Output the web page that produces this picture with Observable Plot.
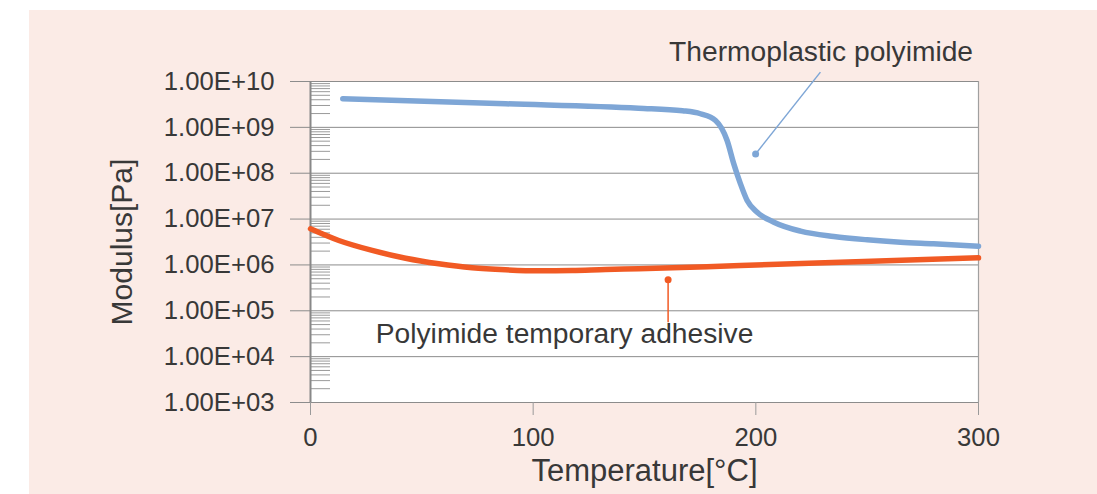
<!DOCTYPE html>
<html><head><meta charset="utf-8">
<script src="https://cdn.jsdelivr.net/npm/d3@7"></script>
<script src="https://cdn.jsdelivr.net/npm/@observablehq/plot@0.6"></script>
<style>
html,body{margin:0;padding:0;background:#fff;}
#wrap{position:relative;width:1097px;height:494px;overflow:hidden;}
#panel{position:absolute;left:29px;top:10px;width:1068px;height:484px;background:#fbebe6;}
#chart{position:absolute;left:0;top:0;}
</style></head><body>
<div id="wrap"><div id="panel"></div><div id="chart"></div></div>
<script>
// Thermoplastic polyimide (blue)
const tpTemp    = [14.5, 87.6, 147.3, 167.1, 175.1, 181.9, 187.1, 190.1, 193.1, 196.1, 200.6, 208.1, 220.1, 235.0, 250.0, 265.0, 279.8, 300];
const tpModulus = [4.20e9, 3.27e9, 2.62e9, 2.30e9, 1.98e9, 1.41e9, 5.16e8, 1.60e8, 5.87e7, 2.54e7, 1.41e7, 8.55e6, 5.45e6, 4.17e6, 3.53e6, 3.13e6, 2.89e6, 2.56e6];
// Polyimide temporary adhesive (orange)
const taTemp    = [0, 12.7, 27.7, 42.7, 57.6, 72.6, 87.6, 102.5, 117.5, 132.5, 147.4, 193.1, 238.0, 300];
const taModulus = [6.14e6, 3.41e6, 2.07e6, 1.40e6, 1.06e6, 8.67e5, 7.83e5, 7.45e5, 7.57e5, 7.96e5, 8.24e5, 9.73e5, 1.15e6, 1.43e6];

const xTicks = [0, 100, 200, 300];
const yTicks = [1e3, 1e4, 1e5, 1e6, 1e7, 1e8, 1e9, 1e10];

// Annotations
const annNames  = ["Thermoplastic polyimide", "Polyimide temporary adhesive"];
const annDotT   = [199.9, 160.6];
const annDotM   = [2.63e8, 4.74e5];
const annEndT   = [229, 160.6];
const annEndM   = [1.6e10, 5.6e4];
const annTextT  = [229.3, 114.1];
const annTextM  = [4.3e10, 3.2e4];
const annColors = ["#7ea6d6", "#f15a24"];

const tp = tpTemp.map((t, i) => ({t, m: tpModulus[i]}));
const ta = taTemp.map((t, i) => ({t, m: taModulus[i]}));
const ann = annNames.map((name, i) => ({name, dt: annDotT[i], dm: annDotM[i], et: annEndT[i], em: annEndM[i], tt: annTextT[i], tm: annTextM[i], c: annColors[i]}));

const minorTicks = d3.scaleLog().domain([1e3, 1e10]).ticks().filter(v => !yTicks.some(d => Math.abs(v - d) / d < 1e-9));

const fmt = d => "1.00E+" + String(Math.round(Math.log10(d))).padStart(2, "0");
const FONT = "'Liberation Sans', Arial, sans-serif";
const TXT = "#383838";

const chart = Plot.plot({
  width: 1097,
  height: 494,
  marginLeft: 310,
  marginRight: 119,
  marginTop: 81,
  marginBottom: 92,
  style: {background: "transparent", fontFamily: FONT, overflow: "visible"},
  x: {domain: [0, 300]},
  y: {type: "log", domain: [1e3, 1e10]},
  marks: [
    Plot.frame({fill: "white", stroke: null}),
    Plot.gridY(yTicks, {stroke: "#8c8c8c", strokeOpacity: 1, strokeWidth: 1}),
    Plot.ruleX([300], {stroke: "#a0a0a0", strokeWidth: 1.2}),
    Plot.axisY(minorTicks, {tickSize: -20, tickFormat: () => "", stroke: "#9a9a9a", label: null}),
    Plot.axisY(yTicks, {tickSize: 20, tickFormat: () => "", stroke: "#8c8c8c", label: null}),
    Plot.axisY(yTicks, {tickSize: 0, tickPadding: 36, tickFormat: fmt, fontSize: 25.7, fill: TXT, label: null}),
    Plot.axisX(xTicks, {tickSize: 13, tickFormat: () => "", stroke: "#9a9a9a", label: null}),
    Plot.axisX(xTicks, {tickSize: 0, tickPadding: 25, fontSize: 25.7, fill: TXT, label: null}),
    Plot.ruleX([0], {stroke: "#888", strokeWidth: 2}),
    Plot.line(tp, {x: "t", y: "m", stroke: "#7ea6d6", strokeWidth: 5.5, curve: "monotone-x"}),
    Plot.line(ta, {x: "t", y: "m", stroke: "#f15a24", strokeWidth: 5.5, curve: "monotone-x"}),
    Plot.link(ann, {x1: "dt", y1: "dm", x2: "et", y2: "em", stroke: "c", strokeWidth: 1.5}),
    Plot.dot(ann, {x: "dt", y: "dm", fill: "c", r: 3.5, stroke: null}),
    Plot.text(ann, {x: "tt", y: "tm", text: "name", fontSize: 28.2, fill: TXT, textAnchor: "middle", lineAnchor: "middle"}),
    Plot.text(["Modulus[Pa]"], {frameAnchor: "left", dx: -188, rotate: -90, fontSize: 30, fill: TXT, textAnchor: "middle", lineAnchor: "middle"}),
    Plot.text(["Temperature[°C]"], {frameAnchor: "bottom", dy: 69, fontSize: 31, fill: TXT, textAnchor: "middle", lineAnchor: "middle"})
  ]
});
document.getElementById("chart").append(chart);
</script>
</body></html>
